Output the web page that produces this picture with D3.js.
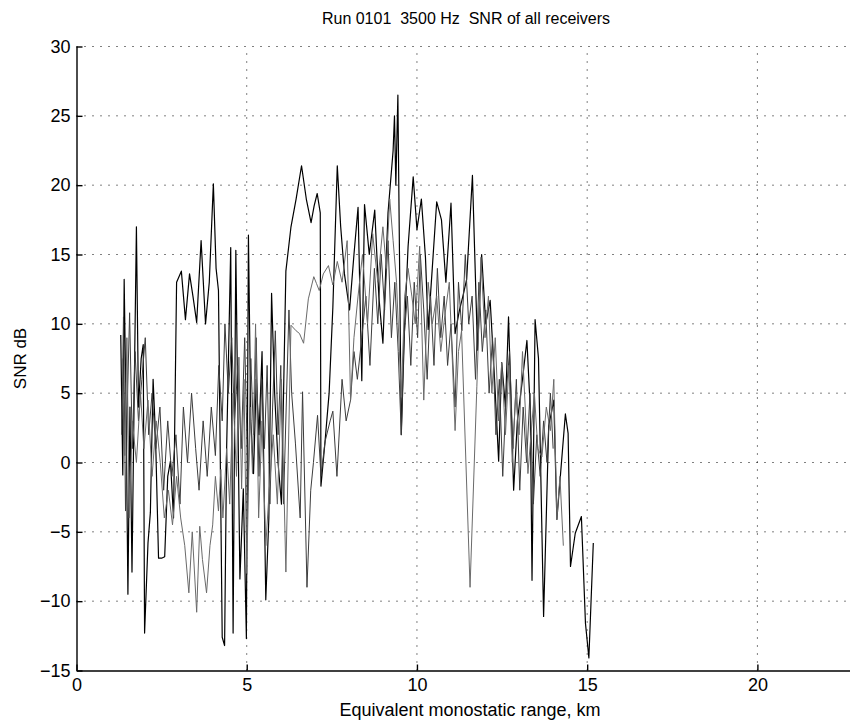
<!DOCTYPE html>
<html>
<head>
<meta charset="utf-8">
<script src="https://cdn.jsdelivr.net/npm/d3@7"></script>
<style>
  body { margin: 0; background: #fff; }
  text { font-family: "Liberation Sans", Arial, Helvetica, sans-serif; fill: #000; }
</style>
</head>
<body>
<svg id="chart"></svg>
<script>
const width = 850, height = 725

// receiver A  [range km, SNR dB]
const snrA = [[1.30,9.2],[1.36,-0.9],[1.40,13.2],[1.46,3.0],[1.51,-9.5],[1.57,4.0],[1.63,-7.9],[1.70,6.0],[1.76,17.0],[1.82,4.0],[1.90,7.5],[1.96,8.5],[2.00,-12.3],[2.10,-5.8],[2.17,-3.6],[2.25,6.0],[2.32,2.0],[2.41,-6.9],[2.50,-6.9],[2.59,-6.8],[2.68,-1.0],[2.76,0.1],[2.85,-4.0],[2.94,13.0],[3.08,13.8],[3.20,10.3],[3.32,13.6],[3.42,12.0],[3.53,10.1],[3.66,16.0],[3.79,10.0],[3.90,13.0],[4.02,20.1],[4.10,14.0],[4.17,12.4],[4.28,-12.6],[4.35,-13.2],[4.41,1.0],[4.53,15.5],[4.60,-12.3],[4.68,15.3],[4.80,-8.4],[4.90,-1.9],[4.99,-12.7],[5.05,16.4],[5.12,3.0],[5.20,-0.8],[5.28,6.0],[5.36,2.0],[5.45,8.0],[5.56,-9.9],[5.65,-4.0],[5.73,12.2],[5.82,5.0],[5.92,0.0],[6.02,-3.0],[6.15,13.8],[6.30,17.0],[6.45,19.0],[6.61,21.4],[6.75,19.0],[6.89,17.3],[6.98,18.5],[7.07,19.4],[7.16,18.0],[7.18,-1.7],[7.30,1.5],[7.42,5.0],[7.53,11.2],[7.66,21.4],[7.76,17.0],[7.87,13.6],[8.02,11.0],[8.15,15.0],[8.27,18.4],[8.38,5.9],[8.46,18.6],[8.60,15.0],[8.76,18.2],[8.88,12.0],[9.00,8.6],[9.15,18.0],[9.30,22.5],[9.34,25.0],[9.38,20.0],[9.44,26.5],[9.54,2.0],[9.64,10.0],[9.74,15.6],[9.89,20.6],[10.00,16.8],[10.13,19.0],[10.25,14.8],[10.33,9.6],[10.45,14.0],[10.58,18.8],[10.72,17.5],[10.85,13.0],[11.00,18.7],[11.12,9.3],[11.25,11.0],[11.35,12.0],[11.46,13.2],[11.63,20.7],[11.78,8.1],[11.90,15.0],[12.02,10.0],[12.15,11.7],[12.28,6.0],[12.40,0.1],[12.49,7.2],[12.60,4.0],[12.69,10.5],[12.84,-2.0],[12.95,3.0],[13.10,6.0],[13.23,8.8],[13.33,3.8],[13.38,-8.5],[13.47,10.3],[13.57,7.5],[13.72,-11.1],[13.87,2.6],[14.02,4.5],[14.11,-4.1],[14.36,3.5],[14.44,2.1],[14.51,-7.5],[14.65,-5.1],[14.83,-3.9],[14.95,-11.6],[15.05,-14.1],[15.18,-5.8]]

// receiver B
const snrB = [[1.33,2.0],[1.38,10.5],[1.44,-3.5],[1.50,5.0],[1.56,10.8],[1.64,1.0],[1.72,8.0],[1.82,3.0],[1.92,6.0],[2.02,9.0],[2.12,2.0],[2.22,5.0],[2.33,1.0],[2.45,4.0],[2.56,-2.0],[2.68,3.0],[2.80,-1.0],[2.92,2.0],[3.04,-3.0],[3.14,4.0],[3.26,0.0],[3.38,5.0],[3.50,1.0],[3.60,-2.0],[3.72,3.0],[3.84,-1.0],[3.96,4.0],[4.08,0.5],[4.18,7.0],[4.28,3.0],[4.36,10.0],[4.46,5.0],[4.56,9.0],[4.64,3.0],[4.74,7.0],[4.84,1.0],[4.94,9.0],[5.04,-2.0],[5.12,7.5],[5.20,2.0],[5.28,9.0],[5.36,-1.0],[5.44,6.0],[5.52,1.0],[5.60,7.0],[5.68,-3.0],[5.76,4.0],[5.84,9.5],[5.92,2.0],[6.00,7.0],[6.08,-3.0],[6.16,4.0],[6.24,11.0],[6.32,5.0],[6.43,1.4],[6.57,-4.0],[6.64,5.1],[6.77,-9.0],[6.88,-2.0],[6.96,0.0],[7.08,3.4],[7.18,-1.0],[7.30,1.5],[7.45,3.0],[7.53,3.7],[7.65,-1.0],[7.80,6.0],[7.92,3.0],[8.05,4.5],[8.15,8.0],[8.25,6.0],[8.38,9.0],[8.50,12.0],[8.62,7.0],[8.75,14.0],[8.85,10.0],[8.95,15.0],[9.05,11.0],[9.15,16.0],[9.25,9.0],[9.35,13.0],[9.45,8.0],[9.54,2.0],[9.62,9.0],[9.72,12.0],[9.82,7.0],[9.92,13.0],[10.02,9.0],[10.10,15.0],[10.20,11.0],[10.30,6.0],[10.40,12.0],[10.50,7.0],[10.60,14.0],[10.70,9.0],[10.80,12.0],[10.90,7.0],[11.00,10.0],[11.12,4.0],[11.22,13.0],[11.32,9.5],[11.42,15.0],[11.52,10.0],[11.62,12.0],[11.72,6.0],[11.82,13.0],[11.92,8.0],[12.02,11.0],[12.12,5.0],[12.22,9.0],[12.32,2.0],[12.42,6.0],[12.52,-1.0],[12.62,5.0],[12.72,8.0],[12.82,1.0],[12.92,6.0],[13.02,-2.0],[13.12,4.0],[13.22,0.0],[13.32,5.0],[13.42,-3.0],[13.52,2.0],[13.62,-1.0],[13.72,3.0],[13.82,0.0],[13.92,5.0],[14.00,1.0]]

// receiver C
const snrC = [[1.35,7.5],[1.42,0.5],[1.48,9.0],[1.55,-4.0],[1.64,3.0],[1.76,0.0],[1.88,5.0],[1.98,1.0],[2.10,4.5],[2.22,-1.0],[2.34,3.0],[2.46,0.0],[2.58,-4.0],[2.70,-2.0],[2.82,-4.5],[2.94,-1.0],[3.06,-4.0],[3.18,-6.0],[3.30,-9.4],[3.40,-5.0],[3.53,-10.8],[3.62,-4.6],[3.70,-7.0],[3.82,-9.4],[3.92,-6.0],[4.00,-4.5],[4.08,-1.0],[4.17,-3.5],[4.24,-0.5],[4.30,-4.0],[4.41,1.0],[4.50,-3.0],[4.60,5.0],[4.70,-1.0],[4.77,7.6],[4.85,-1.9],[4.92,6.0],[5.00,-8.0],[5.10,4.0],[5.17,-0.8],[5.26,10.0],[5.35,-4.0],[5.45,3.0],[5.56,-6.0],[5.66,-2.0],[5.78,2.0],[5.90,-3.0],[6.02,6.0],[6.15,-7.9],[6.30,9.9],[6.45,9.5],[6.55,9.3],[6.67,8.6],[6.81,11.8],[6.97,13.4],[7.05,12.9],[7.13,12.4],[7.25,13.6],[7.40,14.2],[7.53,12.8],[7.66,14.5],[7.80,13.0],[7.95,16.0],[8.05,4.5],[8.15,9.0],[8.27,12.0],[8.40,15.0],[8.55,10.0],[8.70,16.5],[8.85,13.0],[9.00,17.0],[9.10,14.0],[9.20,19.0],[9.30,16.0],[9.40,13.0],[9.54,4.7],[9.64,12.0],[9.74,14.0],[9.85,12.0],[9.95,10.0],[10.08,15.6],[10.20,4.5],[10.33,13.0],[10.45,10.0],[10.58,12.0],[10.70,8.0],[10.82,10.6],[10.95,13.0],[11.12,2.3],[11.22,8.0],[11.31,9.5],[11.56,-9.0],[11.76,5.5],[11.88,14.8],[12.00,9.0],[12.10,12.0],[12.20,5.0],[12.30,9.0],[12.40,3.0],[12.49,7.2],[12.60,2.0],[12.70,7.0],[12.80,0.0],[12.90,5.0],[13.00,2.0],[13.10,8.0],[13.18,4.0],[13.26,-0.8],[13.35,2.0],[13.45,5.0],[13.55,1.0],[13.67,0.4],[13.80,4.0],[13.92,2.3],[14.02,6.0],[14.11,-4.1],[14.20,-1.0],[14.30,-6.0]]

const receivers = [snrA, snrB, snrC]
const lineColors = ["#000000", "#3c3c3c", "#6a6a6a"]
const lineWidths = [1.2, 1, 1]

const xTicks = [0, 5, 10, 15, 20]
const yTicks = [-15, -10, -5, 0, 5, 10, 15, 20, 25, 30]

const plotLeft = 76.5, plotRight = 850, plotTop = 46.5, plotBottom = 670.5

var svg = d3.select("#chart")
    .attr("width", width)
    .attr("height", height)
    ;

svg.append("rect")
    .attr("width", width)
    .attr("height", height)
    .attr("fill", "white");

const x = d3.scaleLinear().domain([0, 22.72]).range([plotLeft, plotRight])
const y = d3.scaleLinear().domain([-15, 30]).range([plotBottom, plotTop])

// dotted grid
svg.append("g")
    .selectAll("line")
    .data(xTicks.filter(d => d > 0))
    .join("line")
    .attr("x1", d => x(d)).attr("x2", d => x(d))
    .attr("y1", plotBottom).attr("y2", plotTop)
    .attr("stroke", "#000")
    .attr("stroke-width", 1)
    .attr("stroke-dasharray", "1,7");

svg.append("g")
    .selectAll("line")
    .data(yTicks.filter(d => d > -15))
    .join("line")
    .attr("x1", plotLeft).attr("x2", plotRight)
    .attr("y1", d => y(d)).attr("y2", d => y(d))
    .attr("stroke", "#000")
    .attr("stroke-width", 1)
    .attr("stroke-dasharray", "1,7");

// traces
svg.append("clipPath").attr("id", "plot")
    .append("rect")
    .attr("x", plotLeft).attr("y", plotTop)
    .attr("width", plotRight - plotLeft).attr("height", plotBottom - plotTop);

const line = d3.line()
    .x(d => x(d[0]))
    .y(d => y(d[1]));

svg.append("g")
    .attr("clip-path", "url(#plot)")
    .selectAll("path")
    .data(receivers)
    .join("path")
    .attr("d", line)
    .attr("fill", "none")
    .attr("stroke", (d, i) => lineColors[i])
    .attr("stroke-width", (d, i) => lineWidths[i])
    .attr("stroke-linejoin", "round");

// axes, ticks point inward like matlab
const xAxis = svg.append("g")
    .attr("transform", "translate(0," + plotBottom + ")")
    .call(d3.axisBottom(x).tickValues(xTicks).tickFormat(d3.format("d"))
        .tickSizeInner(-6).tickSizeOuter(0).tickPadding(8));

const yAxis = svg.append("g")
    .attr("transform", "translate(" + plotLeft + ",0)")
    .call(d3.axisLeft(y).tickValues(yTicks).tickFormat(d => d < 0 ? "\u2212" + Math.abs(d) : d)
        .tickSizeInner(-6).tickSizeOuter(0).tickPadding(6));

[xAxis, yAxis].forEach(a => {
    a.select(".domain").attr("stroke", "#000").attr("stroke-width", 1.4);
    a.selectAll(".tick line").attr("stroke", "#000").attr("stroke-width", 1.4);
    a.selectAll(".tick text")
        .style("font-size", "18px")
        .style("font-family", "'Liberation Sans', Arial, sans-serif")
        .attr("fill", "#000");
});

svg.append("text")
    .attr("x", 466)
    .attr("y", 24)
    .style("font-size", "16px")
    .style("white-space", "pre")
    .style("text-anchor", "middle")
    .text("Run 0101  3500 Hz  SNR of all receivers");

svg.append("text")
    .attr("x", 470)
    .attr("y", 716)
    .style("font-size", "18px")
    .style("text-anchor", "middle")
    .text("Equivalent monostatic range, km");

svg.append("text")
    .attr("transform", "translate(26," + (plotTop + plotBottom) / 2 + ") rotate(-90)")
    .style("font-size", "17px")
    .style("text-anchor", "middle")
    .text("SNR dB");
</script>
</body>
</html>
